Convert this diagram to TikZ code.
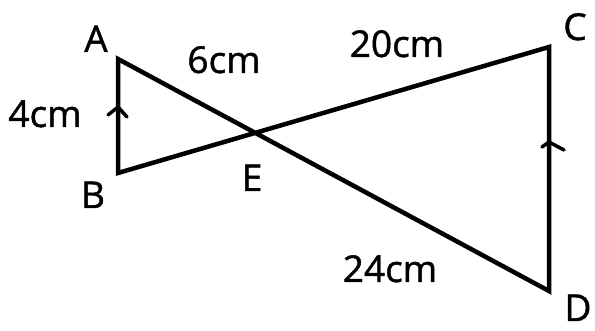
\documentclass[tikz,border=0pt]{standalone}
\usepackage{fontspec}
\setmainfont{Open Sans}
\newfontfamily\lblfont[FakeBold=1.2]{Open Sans}
\begin{document}
\begin{tikzpicture}[x=1pt,y=-1pt,
  seg/.style={line width=4.5pt,line join=miter,black},
  tick/.style={line width=3.5pt,line cap=round,line join=round,black},
  lbl/.style={inner sep=0pt,anchor=base,font=\lblfont\fontsize{37}{40}\selectfont}]
\useasboundingbox (0,0) rectangle (595,331);
\coordinate (A) at (118,59);
\coordinate (B) at (118,173);
\coordinate (C) at (549,47);
\coordinate (D) at (549,291);
\draw[seg] (A) -- (B) -- (C) -- (D) -- cycle;
% parallel marks
\coordinate (t1) at (118,107);
\coordinate (t1a) at (108,115);
\coordinate (t1b) at (127,117);
\draw[tick] (t1a) -- (t1) -- (t1b);
\coordinate (t2) at (549,142);
\coordinate (t2a) at (542,147);
\coordinate (t2b) at (564,150);
\draw[tick] (t2a) -- (t2) -- (t2b);
% labels
\node[lbl] (lA) at (96,52) {A};
\node[lbl] (lB) at (93,208) {B};
\node[lbl] (lC) at (575,40) {C};
\node[lbl] (lD) at (578,321) {D};
\node[lbl] (lE) at (252,191) {E};
\node[lbl] (l4) at (45,127) {4cm};
\node[lbl] (l6) at (224,73) {6cm};
\node[lbl] (l20) at (397,57) {20cm};
\node[lbl] (l24) at (390,282) {24cm};
\end{tikzpicture}
\end{document}
